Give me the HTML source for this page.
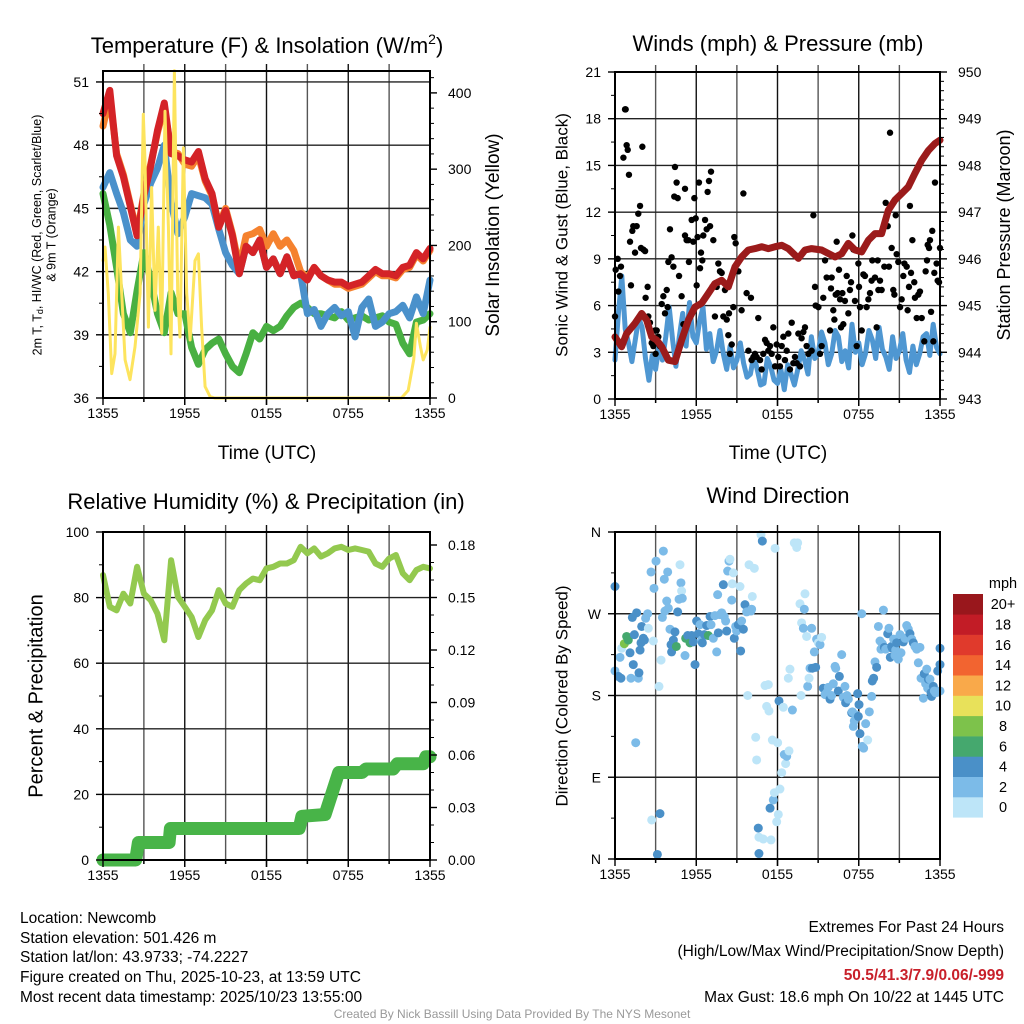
<!DOCTYPE html>
<html><head><meta charset="utf-8"><title>Newcomb Meteogram</title>
<style>
html,body{margin:0;padding:0;background:#fff;}
svg{display:block;font-family:"Liberation Sans",Arial,sans-serif;}
</style></head>
<body>
<svg id="chart" width="1024" height="1024" viewBox="0 0 1024 1024" xmlns="http://www.w3.org/2000/svg">
<rect x="0" y="0" width="1024" height="1024" fill="#fff"/>
<text x="267" y="53" font-size="22" text-anchor="middle">Temperature (F) &amp; Insolation (W/m<tspan dy="-9" font-size="14">2</tspan><tspan dy="9">)</tspan></text>
<text x="778" y="45" font-size="22" text-anchor="middle" dominant-baseline="middle">Winds (mph) &amp; Pressure (mb)</text>
<text x="266" y="503" font-size="22" text-anchor="middle" dominant-baseline="middle">Relative Humidity (%) &amp; Precipitation (in)</text>
<text x="778" y="497" font-size="22" text-anchor="middle" dominant-baseline="middle">Wind Direction</text>

<text x="267" y="459" font-size="19" text-anchor="middle">Time (UTC)</text>
<text x="778" y="459" font-size="19" text-anchor="middle">Time (UTC)</text>

<text transform="translate(38,235) rotate(-90)" font-size="12.5" text-anchor="middle" dominant-baseline="middle">2m T, T<tspan font-size="9" dy="3">d</tspan><tspan dy="-3">, HI/WC (Red, Green, Scarlet/Blue)</tspan></text>
<text transform="translate(52,235) rotate(-90)" font-size="12.5" text-anchor="middle" dominant-baseline="middle">&amp; 9m T (Orange)</text>
<text transform="translate(494,235) rotate(-90)" font-size="19" text-anchor="middle" dominant-baseline="middle">Solar Insolation (Yellow)</text>
<text transform="translate(563,235) rotate(-90)" font-size="17" text-anchor="middle" dominant-baseline="middle">Sonic Wind &amp; Gust (Blue, Black)</text>
<text transform="translate(1005,235) rotate(-90)" font-size="18" text-anchor="middle" dominant-baseline="middle">Station Pressure (Maroon)</text>
<text transform="translate(37,696) rotate(-90)" font-size="20" text-anchor="middle" dominant-baseline="middle">Percent &amp; Precipitation</text>
<text transform="translate(563,696) rotate(-90)" font-size="17" text-anchor="middle" dominant-baseline="middle">Direction (Colored By Speed)</text>

<g font-size="15.5">
<text x="20" y="923">Location: Newcomb</text>
<text x="20" y="943">Station elevation: 501.426 m</text>
<text x="20" y="962">Station lat/lon: 43.9733; -74.2227</text>
<text x="20" y="982">Figure created on Thu, 2025-10-23, at 13:59 UTC</text>
<text x="20" y="1002">Most recent data timestamp: 2025/10/23 13:55:00</text>
</g>
<g font-size="15.5" text-anchor="end">
<text x="1004" y="932">Extremes For Past 24 Hours</text>
<text x="1004" y="956">(High/Low/Max Wind/Precipitation/Snow Depth)</text>
<text x="1004" y="980" font-weight="bold" fill="#c8202a">50.5/41.3/7.9/0.06/-999</text>
<text x="1004" y="1002">Max Gust: 18.6 mph On 10/22 at 1445 UTC</text>
</g>
<text x="512" y="1018" font-size="12" fill="#999" text-anchor="middle">Created By Nick Bassill Using Data Provided By The NYS Mesonet</text>
</svg>
<script>
// ---------------- DATA ----------------
const timeTickLabels = ["1355","1955","0155","0755","1355"];
const tempTicks = [36,39,42,45,48,51];
const solarTicks = [0,100,200,300,400];
const windTicks = [0,3,6,9,12,15,18,21];
const pressTicks = [943,944,945,946,947,948,949,950];
const rhTicks = [0,20,40,60,80,100];
const precipTicks = [0,0.03,0.06,0.09,0.12,0.15,0.18];
const dirTicks = [0,90,180,270,360];
const dirTickLabels = ["N","E","S","W","N"];
const speedBinLabels = ["0","2","4","6","8","10","12","14","16","18","20+"];
const speedBinColors = ["#bde5f8","#7cbbe8","#4a90c8","#45a86e","#7dc24b","#e8e15a","#f9a94a","#f26430","#e03a2c","#c21c26","#99171c"];

const tempRed = [49.5,50.6,47.5,46.5,45.1,43.7,45.6,47.0,48.7,50.0,47.6,47.5,47.3,47.2,47.7,46.4,45.7,44.1,44.9,43.7,41.9,43.2,42.9,43.5,42.2,42.6,41.9,42.7,41.8,41.9,41.6,42.2,41.8,41.6,41.5,41.5,41.3,41.4,41.5,41.8,42.1,41.9,41.9,41.8,42.2,42.3,42.9,42.6,43.1];
const temp9m = [48.9,50.3,47.6,46.6,45.2,43.8,45.7,47.1,48.6,49.8,47.7,47.6,47.1,47.0,47.5,46.3,45.6,44.2,45.0,43.8,42.2,43.7,43.8,44.0,43.2,43.8,43.2,43.5,43.0,42.0,41.7,42.2,41.8,41.6,41.4,41.4,41.2,41.3,41.4,41.7,42.0,41.8,41.8,41.7,42.1,42.2,42.8,42.5,43.0];
const tempChill = [46.0,46.7,45.7,44.8,43.5,43.2,45.2,46.2,46.9,48.0,45.3,43.8,44.6,45.7,45.6,45.5,45.2,44.0,42.9,42.3,41.9,43.2,42.9,43.5,42.2,42.6,41.9,42.7,41.8,41.9,40.0,40.2,39.4,40.0,40.3,39.9,40.1,38.9,40.3,40.7,39.4,39.6,40.0,40.1,40.4,39.8,40.8,40.0,41.6];
const tempDew = [45.7,44.2,42.2,40.0,39.1,41.1,42.9,41.6,40.0,39.1,41.0,40.0,40.0,38.4,37.6,38.3,38.6,38.8,38.1,37.5,37.2,38.1,39.1,38.8,39.4,39.2,39.4,39.9,40.3,40.5,40.3,40.0,40.0,39.9,39.8,40.1,39.7,39.8,39.9,39.7,39.8,39.9,39.6,39.5,38.6,38.1,39.6,39.7,40.0];
const tempTimes = tempRed.map((_, i) => i * 0.5);

const solarTimes = [0,0.15,0.39,0.64,0.88,1.13,1.37,1.62,1.98,2.35,2.72,2.96,3.08,3.33,3.57,3.82,4.06,4.31,4.55,4.8,4.99,5.24,5.48,5.65,5.9,6.14,6.39,6.75,7.0,7.24,7.49,7.85,8.2,21.9,22.4,22.8,23.0,23.3,23.5,23.8,24.0];
const solarVals = [180,198,137,32,58,224,137,50,24,67,137,372,311,93,276,115,224,85,376,224,58,429,137,80,328,137,76,180,189,93,15,2,0,0,10,50,98,67,50,63,93];

const windSpeed = [2.5,5.5,7.9,4.5,3.6,2.4,3.8,5.2,4.6,2.6,1.2,2.8,1.9,3.4,2.5,4.0,5.9,3.8,2.1,4.0,5.5,3.4,6.2,4.0,3.6,5.0,5.9,3.2,4.2,2.4,3.1,4.4,2.9,1.9,3.4,2.0,2.5,3.6,2.3,1.4,1.6,2.8,1.9,0.9,1.0,2.6,2.1,1.2,1.0,1.9,0.6,2.2,1.6,0.9,1.9,3.1,2.5,1.6,4.0,2.6,2.9,4.3,3.6,2.2,2.9,4.4,4.0,2.4,3.1,2.0,4.8,3.0,3.6,2.2,2.9,4.4,3.8,2.6,4.6,3.2,2.7,1.9,4.0,2.6,3.1,4.2,2.5,1.7,3.4,2.2,2.9,4.0,4.2,2.8,4.8,3.3,2.9];
const windTimes = windSpeed.map((_, i) => i * 0.25);

const gustTimes = [0,0.05,0.2,0.25,0.37,0.44,0.62,0.74,0.79,0.86,0.94,1.03,1.11,1.18,1.28,1.35,1.48,1.6,1.72,1.85,1.92,2.02,2.09,2.22,2.26,2.41,2.46,2.58,2.71,2.83,2.95,3.0,3.08,3.2,3.32,3.45,3.57,3.69,3.82,3.89,3.94,4.06,4.18,4.31,4.38,4.43,4.55,4.63,4.73,4.92,5.05,5.17,5.29,5.17,5.42,5.46,5.66,5.78,5.86,5.96,6.03,6.1,6.2,6.28,6.35,6.45,6.52,6.65,6.77,6.84,6.94,7.02,7.09,7.19,7.26,7.38,7.51,7.63,7.75,7.88,8.0,8.12,8.25,8.37,8.42,8.49,8.62,8.74,8.81,8.91,9.11,9.35,9.48,9.72,9.85,10.04,10.09,10.22,10.34,10.46,10.58,10.71,10.83,10.95,11.08,11.2,11.32,11.45,11.57,11.69,11.82,11.94,12.06,12.18,12.31,12.43,12.55,12.68,12.8,12.92,13.05,13.17,13.29,13.42,13.54,13.66,13.78,13.91,14.03,14.15,14.28,14.52,14.65,14.77,14.82,15.02,15.14,15.26,15.38,15.51,15.63,15.88,15.95,16.0,16.12,16.2,16.3,16.37,16.44,16.54,16.62,16.69,16.79,16.86,16.98,17.11,17.23,17.35,17.43,17.53,17.6,17.72,17.85,17.97,18.02,18.09,18.22,18.34,18.46,18.58,18.71,18.83,18.95,19.0,19.2,19.32,19.4,19.45,19.57,19.69,19.89,19.99,20.14,20.23,20.31,20.43,20.55,20.63,20.73,20.8,20.92,21.05,21.17,21.29,21.37,21.54,21.61,21.71,21.78,21.86,21.96,22.1,22.15,22.28,22.4,22.52,22.65,22.84,22.94,23.04,23.09,23.19,23.26,23.34,23.43,23.51,23.58,23.63,23.75,23.83,23.93,24.0];
const gustVals = [5.3,8.3,9.0,6.9,7.9,8.5,15.5,18.6,18.6,16.3,16.0,14.4,10.1,7.3,10.8,11.1,9.4,11.1,11.9,12.4,9.7,16.2,9.6,9.5,6.5,7.2,5.3,4.9,3.6,3.4,4.4,2.9,4.4,4.0,3.4,6.1,6.6,5.5,7.0,5.9,8.8,10.9,9.1,8.5,13.0,14.9,13.9,12.9,7.9,6.6,4.8,10.5,10.2,13.5,10.2,8.8,11.5,10.1,12.9,11.6,7.3,10.4,13.9,8.4,9.4,8.9,10.5,11.5,10.9,13.3,14.0,11.1,14.6,7.2,10.2,5.3,7.2,8.7,8.2,8.1,5.3,7.0,5.1,4.1,5.5,2.9,3.5,5.9,10.4,10.0,8.2,5.7,13.2,6.8,3.1,6.5,2.5,2.7,2.9,2.7,5.2,2.5,1.9,2.9,3.8,3.6,3.1,3.4,2.9,4.6,2.1,3.5,2.7,2.1,3.4,4.0,2.5,3.1,4.2,1.9,4.9,2.3,2.7,2.3,4.2,2.1,3.9,4.3,4.6,3.4,2.9,3.1,11.8,7.2,6.0,5.9,2.9,3.4,6.5,8.9,7.8,4.4,7.1,7.8,5.7,5.1,6.7,10.1,6.8,8.3,6.4,4.6,6.8,4.8,6.3,7.9,5.5,7.0,7.5,10.5,9.6,6.3,3.4,8.7,7.2,5.9,4.4,8.0,7.9,5.9,6.4,6.8,7.6,8.9,7.8,4.6,8.9,7.0,7.6,7.0,8.5,12.6,11.1,8.5,17.1,9.7,7.0,6.7,11.8,9.3,8.8,5.9,6.4,7.9,8.7,8.5,5.7,7.2,12.4,8.1,10.2,7.5,6.5,5.2,6.7,6.9,5.2,3.7,8.2,8.9,9.9,9.7,10.2,5.6,10.8,3.7,8.1,13.9,8.7,7.6,7.5,9.7];

const pressTimes = [0,0.49,0.86,1.48,1.97,2.34,2.71,3.08,3.45,3.94,4.43,4.92,5.42,5.91,6.4,6.89,7.38,7.88,8.37,8.86,9.35,9.85,10.34,10.83,11.32,11.82,12.31,12.8,13.54,14.03,14.52,15.26,16.25,16.74,17.23,17.72,18.22,18.71,19.2,19.69,20.18,20.68,21.17,21.66,22.15,22.65,23.14,23.63,24.0];
const pressVals = [944.33,944.12,944.40,944.62,944.83,944.69,944.33,944.26,944.12,943.83,943.80,944.26,944.69,944.97,945.05,945.26,945.47,945.54,945.40,945.83,946.04,946.19,946.22,946.26,946.22,946.26,946.29,946.22,946.01,946.19,946.22,946.19,946.04,946.11,946.33,946.19,946.15,946.40,946.54,946.54,947.04,947.26,947.40,947.54,947.83,948.11,948.32,948.47,948.54];

const rhVals = [86.9,77.2,76.1,81.2,78.2,89.4,81.2,79.2,75.1,67.0,91.4,80.2,77.2,74.1,68.0,73.1,76.1,82.3,78.2,77.2,82.3,84.3,85.8,85.3,88.9,89.4,90.4,90.4,91.4,95.5,93.5,95.0,92.5,93.5,95.0,95.5,94.5,95.0,94.5,94.0,90.4,89.4,91.9,93.0,87.4,85.3,88.4,89.4,88.9];
const rhTimes = rhVals.map((_, i) => i * 0.5);

const precipTimes = [0,2.4,2.6,4.85,4.95,14.4,14.6,16.3,16.8,17.3,19.0,19.3,21.3,21.6,23.5,23.7,24.0];
const precipVals = [0,0,0.01,0.01,0.018,0.018,0.025,0.026,0.038,0.050,0.050,0.052,0.052,0.055,0.055,0.059,0.059];

const dirTimes = [0,0,0.25,0.37,0.44,0.49,0.69,0.86,0.98,1.11,1.18,1.28,1.43,1.35,1.53,1.6,1.72,1.77,1.85,1.92,1.97,2.09,2.17,2.26,2.41,2.46,2.66,2.71,2.83,2.88,3.03,3.13,3.25,3.32,3.4,3.5,3.57,3.64,3.69,3.82,3.89,3.94,4.06,4.14,4.18,4.31,4.43,4.53,4.63,4.73,4.8,4.87,4.92,4.97,5.17,5.22,5.37,5.54,5.66,5.78,5.91,6.03,6.15,6.28,6.4,6.45,6.6,6.77,6.89,7.02,7.09,7.26,7.38,7.51,7.58,7.63,7.75,7.88,8.0,8.07,8.17,8.25,8.32,8.42,8.49,8.62,8.66,8.74,8.81,8.91,8.98,9.11,9.23,9.28,9.35,9.48,9.6,9.72,9.8,9.9,10.04,10.09,10.14,10.29,10.39,10.46,10.58,10.63,10.78,10.88,10.63,10.95,11.08,11.2,11.32,11.37,11.45,11.52,11.62,11.69,11.77,11.82,11.94,12.01,12.06,12.11,12.18,12.31,12.43,12.5,12.6,12.68,12.8,12.85,12.92,13.1,13.24,13.42,13.49,13.66,13.74,13.78,13.91,13.98,14.03,14.15,14.23,14.33,14.4,14.52,14.57,14.72,14.82,14.89,15.02,15.14,15.26,15.38,15.51,15.63,15.75,15.88,16.0,16.12,16.25,16.3,16.49,16.57,16.74,16.86,16.98,17.03,17.13,17.23,17.48,17.53,17.6,17.67,17.77,17.92,17.97,18.02,18.09,18.22,18.26,18.36,18.51,18.66,18.78,18.95,19.0,19.1,19.2,19.32,19.45,19.57,19.64,19.74,19.82,19.89,19.99,20.14,20.23,20.33,20.43,20.48,20.58,20.68,20.73,20.8,20.92,21.05,21.12,21.29,21.42,21.54,21.66,21.78,21.91,22.03,22.15,22.28,22.4,22.52,22.6,22.77,22.84,22.94,23.02,23.09,23.14,23.26,23.34,23.38,23.51,23.58,23.68,23.83,24.0,24.0,24.0];
const dirVals = [300,207,201,222,199,232,237,245,241,227,199,266,247,214,128,271,199,205,230,238,256,243,241,265,270,254,316,43,240,298,328,5,190,50,219,266,339,308,273,284,316,276,253,236,228,241,250,234,272,286,324,304,295,287,224,243,246,238,246,239,214,262,248,258,241,238,247,257,246,267,258,243,268,228,291,249,269,271,302,267,262,251,317,328,330,285,303,315,243,256,251,258,300,229,262,253,280,272,180,324,273,275,289,320,134,109,34,24,357,350,6,22,191,168,192,163,56,21,131,65,73,342,41,128,49,174,77,95,167,115,105,113,199,119,209,164,348,343,348,281,180,260,254,275,292,245,190,199,210,254,210,228,211,242,238,236,244,188,181,183,189,176,180,193,212,210,185,201,225,178,190,172,180,176,161,162,146,152,159,182,157,170,138,270,124,122,149,131,162,179,196,199,217,211,256,240,231,237,274,233,231,248,254,222,234,232,242,224,230,238,220,247,227,239,243,257,253,248,242,238,234,231,216,233,199,177,204,193,209,188,198,198,183,179,190,185,183,207,214,232,185];
const dirSpeeds = [5,3,5,3,5,1,8,7,7,5,3,5,5,5,3,5,3,5,5,5,5,5,5,3,3,1,3,1,1,3,3,5,1,5,1,3,3,3,3,3,3,3,3,5,5,5,5,7,5,3,1,3,1,3,3,7,5,7,5,5,5,5,5,3,3,5,5,5,7,5,3,3,3,3,3,5,3,3,5,3,3,5,3,3,1,3,1,1,5,3,3,5,1,5,3,5,5,3,1,1,3,3,1,1,1,1,5,1,1,5,5,1,1,1,1,1,5,1,1,3,1,1,1,1,1,5,1,1,1,3,1,3,1,1,1,3,1,1,1,1,1,1,3,3,1,1,3,1,3,3,5,3,5,3,1,3,1,5,3,3,3,5,3,3,3,3,5,5,3,3,3,5,3,3,5,3,3,3,3,5,5,5,5,3,3,3,3,1,3,3,5,5,3,5,3,3,3,3,3,5,3,5,3,5,5,5,3,3,3,5,3,3,3,5,3,3,3,5,3,5,3,3,3,3,3,3,5,3,3,3,5,3,5,5,5,3,3,5,5,5,3,3,3,5];

// ---------------- HELPERS ----------------
const NS = "http://www.w3.org/2000/svg";
const svg = document.getElementById("chart");
function mk(tag, attrs, parent) {
  const el = document.createElementNS(NS, tag);
  for (const k in attrs) el.setAttribute(k, attrs[k]);
  (parent || svg).appendChild(el);
  return el;
}
const P1 = {x0:103, x1:430, y0:71, y1:398};
const P2 = {x0:615, x1:940, y0:72, y1:399};
const P3 = {x0:103, x1:430, y0:532, y1:860};
const P4 = {x0:615, x1:940, y0:532, y1:859};
function xScale(p, t) { return p.x0 + (t / 24) * (p.x1 - p.x0); }
function yScale(p, v, lo, hi) { return p.y1 - (v - lo) / (hi - lo) * (p.y1 - p.y0); }
function linePath(p, ts, vs, lo, hi) {
  return ts.map((t, i) => (i ? "L" : "M") + xScale(p, t).toFixed(1) + "," + yScale(p, vs[i], lo, hi).toFixed(1)).join("");
}

function drawGrid(p, name, ticks, lo, hi) {
  const g = mk("g", {}, svg);
  
  
  for (let h = 3; h < 24; h += 3) {
    const x = xScale(p, h);
    const ln = mk("line", {x1:x, x2:x, y1:p.y0 - 7, y2:p.y1 + (h % 6 === 0 ? 7 : 4), stroke: h % 6 === 0 ? "#111" : "#555", "stroke-width": 1.4}, g);
    
    
  }
  ticks.forEach(v => {
    const y = yScale(p, v, lo, hi);
    if (y <= p.y0 + 1 || y >= p.y1 - 1) return;
    const ln = mk("line", {x1:p.x0, x2:p.x1, y1:y, y2:y, stroke:"#222", "stroke-width":1.4}, g);
    
    
  });
}

function drawFrame(p, name, leftTicks, leftLabels, lLo, lHi, leftMinor, rightTicks, rightLabels, rLo, rHi, rightMinor) {
  const g = mk("g", {}, svg);
  
  
  const fr = mk("rect", {x:p.x0, y:p.y0, width:p.x1 - p.x0, height:p.y1 - p.y0, fill:"none", stroke:"#000", "stroke-width":2}, g);
  
  
  for (let h = 0; h <= 24; h += 3) {
    const x = xScale(p, h);
    const len = h % 6 === 0 ? 7 : 4;
    const tk = mk("line", {x1:x, x2:x, y1:p.y1, y2:p.y1 + len, stroke:"#000", "stroke-width":1.4}, g);
    
    
  }
  timeTickLabels.forEach((lab, i) => {
    const tx = mk("text", {x:xScale(p, i * 6), y:p.y1 + 20, "font-size":14, "text-anchor":"middle"}, g);
    
    
    tx.textContent = lab;
  });
  leftTicks.forEach((v, i) => {
    const y = yScale(p, v, lLo, lHi);
    const tk = mk("line", {x1:p.x0 - 7, x2:p.x0, y1:y, y2:y, stroke:"#000", "stroke-width":1.4}, g);
    
    
    const tx = mk("text", {x:p.x0 - 14, y:y + 5, "font-size":14, "text-anchor":"end"}, g);
    
    
    tx.textContent = leftLabels[i];
  });
  leftMinor.forEach(v => {
    const y = yScale(p, v, lLo, lHi);
    const tk = mk("line", {x1:p.x0 - 4, x2:p.x0, y1:y, y2:y, stroke:"#000", "stroke-width":1}, g);
    
    
  });
  if (rightTicks) {
    rightTicks.forEach((v, i) => {
      const y = yScale(p, v, rLo, rHi);
      const tk = mk("line", {x1:p.x1, x2:p.x1 + 7, y1:y, y2:y, stroke:"#000", "stroke-width":1.4}, g);
      
      
      const tx = mk("text", {x:p.x1 + 18, y:y + 5, "font-size":14, "text-anchor":"start"}, g);
      
      
      tx.textContent = rightLabels[i];
    });
    rightMinor.forEach(v => {
      const y = yScale(p, v, rLo, rHi);
      const tk = mk("line", {x1:p.x1, x2:p.x1 + 4, y1:y, y2:y, stroke:"#000", "stroke-width":1}, g);
      
      
    });
  }
}

function drawLine(p, name, ts, vs, lo, hi, color, width, opacity) {
  const path = mk("path", {d:linePath(p, ts, vs, lo, hi), fill:"none", stroke:color, "stroke-width":width, "stroke-linejoin":"round", "stroke-linecap":"round", opacity:opacity || 1}, svg);
  
  
}

// ---------------- PANEL 1 ----------------
const T_LO = 36, T_HI = 51.52, S_LO = 0, S_HI = 428.7;
drawGrid(P1, "temperature", tempTicks, T_LO, T_HI);
drawLine(P1, "dewpoint-line", tempTimes, tempDew, T_LO, T_HI, "#49b042", 7);
drawLine(P1, "wind-chill-line", tempTimes, tempChill, T_LO, T_HI, "#4a91cb", 7);
drawLine(P1, "temp-9m-line", tempTimes, temp9m, T_LO, T_HI, "#f5822f", 7);
drawLine(P1, "temp-2m-line", tempTimes, tempRed, T_LO, T_HI, "#d42327", 7);
drawLine(P1, "solar-line", solarTimes, solarVals, S_LO, S_HI, "#fde45e", 3);
drawFrame(P1, "temperature", tempTicks, tempTicks.map(String), T_LO, T_HI, [37.5,40.5,43.5,46.5,49.5],
  solarTicks, solarTicks.map(String), S_LO, S_HI, [20,40,60,80,120,140,160,180,220,240,260,280,320,340,360,380,420]);

// ---------------- PANEL 2 ----------------
const W_LO = 0, W_HI = 21, PR_LO = 943, PR_HI = 950;
drawGrid(P2, "winds", windTicks, W_LO, W_HI);
drawLine(P2, "wind-speed-line", windTimes, windSpeed, W_LO, W_HI, "#4f97d2", 5);
gustTimes.forEach((t, i) => {
  const c = mk("circle", {cx:xScale(P2, t), cy:yScale(P2, gustVals[i], W_LO, W_HI), r:3.2, fill:"#000"}, svg);
  
  
});
drawLine(P2, "pressure-line", pressTimes, pressVals, PR_LO, PR_HI, "#9b1b1b", 7);
const pressMinor = [];
for (let v = 943.2; v < 950; v += 0.2) if (Math.abs(v - Math.round(v)) > 0.05) pressMinor.push(v);
drawFrame(P2, "winds", windTicks, windTicks.map(String), W_LO, W_HI, [1.5,4.5,7.5,10.5,13.5,16.5,19.5],
  pressTicks, pressTicks.map(String), PR_LO, PR_HI, pressMinor);

// ---------------- PANEL 3 ----------------
const RH_LO = 0, RH_HI = 100, PC_LO = 0, PC_HI = 0.18 * 328 / 315;
drawGrid(P3, "humidity", rhTicks, RH_LO, RH_HI);
drawLine(P3, "precipitation-line", precipTimes, precipVals, PC_LO, PC_HI, "#48b448", 13);
drawLine(P3, "humidity-line", rhTimes, rhVals, RH_LO, RH_HI, "#93c94f", 6);
const precipMinor = [];
for (let k = 1; k <= 18; k++) if (k % 3) precipMinor.push(k / 100);
drawFrame(P3, "humidity", rhTicks, rhTicks.map(String), RH_LO, RH_HI, [10,30,50,70,90],
  precipTicks, precipTicks.map(v => v.toFixed(2)), PC_LO, PC_HI, precipMinor);

// ---------------- PANEL 4 ----------------
drawGrid(P4, "direction", dirTicks, 0, 360);
function speedColor(s) {
  const idx = Math.min(10, Math.floor(s / 2));
  return speedBinColors[idx];
}
dirTimes.forEach((t, i) => {
  const c = mk("circle", {cx:xScale(P4, t), cy:yScale(P4, dirVals[i], 0, 360), r:4.5, fill:speedColor(dirSpeeds[i])}, svg);
  
  
});
drawFrame(P4, "direction", dirTicks, dirTickLabels, 0, 360, [45,135,225,315], null);

// colorbar
const cb = mk("g", {}, svg);


const cbTop = 594, cbH = 20.3;
const mphLab = mk("text", {x:1003, y:588, "font-size":14.5, "text-anchor":"middle"}, cb);


mphLab.textContent = "mph";
speedBinLabels.forEach((lab, i) => {
  const j = speedBinLabels.length - 1 - i;
  const y = cbTop + j * cbH;
  const r = mk("rect", {x:953, y:y, width:30, height:cbH + 0.3, fill:speedBinColors[i]}, cb);
  
  
  const tx = mk("text", {x:1003, y:y + cbH / 2 + 5, "font-size":14.5, "text-anchor":"middle"}, cb);
  
  
  tx.textContent = lab;
});
</script>
</body></html>
